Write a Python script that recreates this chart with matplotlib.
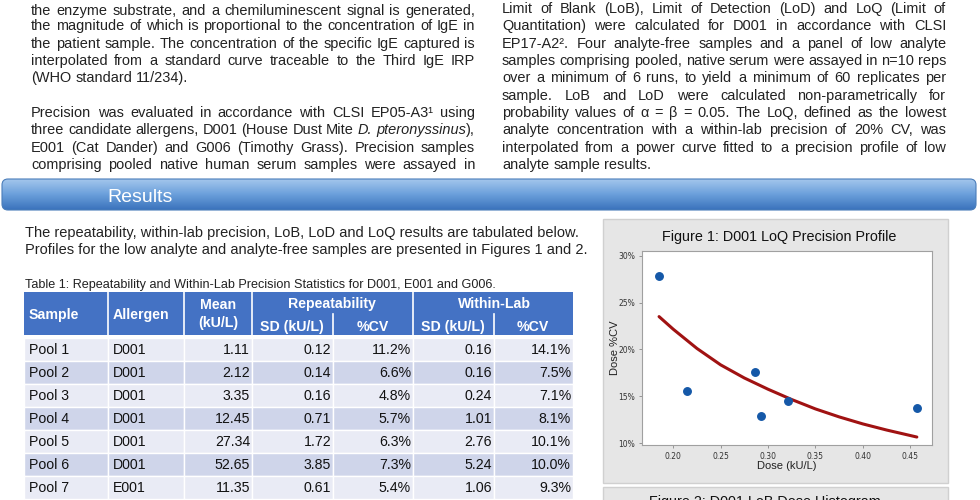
import matplotlib
matplotlib.use('Agg')
import matplotlib.pyplot as plt
from matplotlib.patches import Rectangle, FancyBboxPatch
from matplotlib.font_manager import FontProperties
from matplotlib.colors import LinearSegmentedColormap
import numpy as np

# ---------------- data ----------------
left_par = [
    "the enzyme substrate, and a chemiluminescent signal is generated,",
    "the magnitude of which is proportional to the concentration of IgE in",
    "the patient sample. The concentration of the specific IgE captured is",
    "interpolated from a standard curve traceable to the Third IgE IRP",
    "(WHO standard 11/234).",
    "Precision was evaluated in accordance with CLSI EP05-A3\u00b9 using",
    "three candidate allergens, D001 (House Dust Mite *D. pteronyssinus*),",
    "E001 (Cat Dander) and G006 (Timothy Grass). Precision samples",
    "comprising pooled native human serum samples were assayed in",
]
left_just = [True, True, True, True, False, True, True, True, True]
left_y = [10, 25, 43, 60, 77, 112, 129, 147, 164]

right_par = [
    "Limit of Blank (LoB), Limit of Detection (LoD) and LoQ (Limit of",
    "Quantitation) were calculated for D001 in accordance with CLSI",
    "EP17-A2\u00b2. Four analyte-free samples and a panel of low analyte",
    "samples comprising pooled, native serum were assayed in n=10 reps",
    "over a minimum of 6 runs, to yield a minimum of 60 replicates per",
    "sample. LoB and LoD were calculated non-parametrically for",
    "probability values of \u03b1 = \u03b2 = 0.05. The LoQ, defined as the lowest",
    "analyte concentration with a within-lab precision of 20% CV, was",
    "interpolated from a power curve fitted to a precision profile of low",
    "analyte sample results.",
]
right_just = [True] * 9 + [False]
right_y = [8, 25, 43, 60, 77, 95, 112, 129, 147, 164]

banner_title = "Results"
results_lines = [
    "The repeatability, within-lab precision, LoB, LoD and LoQ results are tabulated below.",
    "Profiles for the low analyte and analyte-free samples are presented in Figures 1 and 2.",
]
table_caption = "Table 1: Repeatability and Within-Lab Precision Statistics for D001, E001 and G006."

samples = ["Pool 1", "Pool 2", "Pool 3", "Pool 4", "Pool 5", "Pool 6", "Pool 7"]
allergens = ["D001", "D001", "D001", "D001", "D001", "D001", "E001"]
mean_kul = [1.11, 2.12, 3.35, 12.45, 27.34, 52.65, 11.35]
rep_sd = [0.12, 0.14, 0.16, 0.71, 1.72, 3.85, 0.61]
rep_cv = [11.2, 6.6, 4.8, 5.7, 6.3, 7.3, 5.4]
wl_sd = [0.16, 0.16, 0.24, 1.01, 2.76, 5.24, 1.06]
wl_cv = [14.1, 7.5, 7.1, 8.1, 10.1, 10.0, 9.3]

fig1_title = "Figure 1: D001 LoQ Precision Profile"
fig2_title = "Figure 2: D001 LoB Dose Histogram"
dose = [0.1845, 0.2145, 0.286, 0.2925, 0.3215, 0.457]
dose_cv = [27.8, 15.6, 17.6, 12.9, 14.5, 13.7]
fit_dose = [0.185, 0.20, 0.225, 0.25, 0.275, 0.30, 0.325, 0.35, 0.375, 0.40, 0.425, 0.457]
fit_cv = [23.5, 22.15, 20.1, 18.35, 16.95, 15.75, 14.65, 13.65, 12.8, 12.05, 11.4, 10.65]
x_ticks = [0.20, 0.25, 0.30, 0.35, 0.40, 0.45]
y_ticks = [10, 15, 20, 25, 30]

# ---------------- figure ----------------
W, H = 980, 500
fig = plt.figure(figsize=(9.8, 5), dpi=100)
fig.patch.set_facecolor('white')
ax0 = fig.add_axes([0, 0, 1, 1])
ax0.axis('off')
renderer = fig.canvas.get_renderer()

SANS = ['Liberation Sans', 'DejaVu Sans']
NARROW = ['Liberation Sans Narrow', 'Liberation Sans', 'DejaVu Sans']
TXT = '#222222'


def tw(s, size, family=SANS, style='normal', weight='normal'):
    fp = FontProperties(family=family, size=size, style=style, weight=weight)
    w, h, d = renderer.get_text_width_height_descent(s, fp, ismath=False)
    return w


def tokens(line):
    toks = []
    ital = False
    for word in line.split(' '):
        segs = []
        parts = word.split('*')
        for i, p in enumerate(parts):
            if i > 0:
                ital = not ital
            if p:
                segs.append((p, ital))
        toks.append(segs)
    return toks


def natural_width(line, size):
    toks = tokens(line)
    sp = tw('a a', size) - tw('aa', size)
    tot = sum(tw(s, size, style='italic' if it else 'normal') for t in toks for s, it in t)
    return tot + sp * (len(toks) - 1)


def draw_par(lines, x0, x1, ys, size, just):
    sp = tw('a a', size) - tw('aa', size)
    base = 0.32 * size * 100 / 72
    for line, y, j in zip(lines, ys, just):
        toks = tokens(line)
        widths = [[tw(s, size, style='italic' if it else 'normal') for s, it in t] for t in toks]
        tot = sum(sum(w) for w in widths)
        gap = (x1 - x0 - tot) / (len(toks) - 1) if (j and len(toks) > 1) else sp
        x = x0
        for t, wl in zip(toks, widths):
            for (s, it), w in zip(t, wl):
                ax0.text(x, y + base, s, fontsize=size, family=SANS,
                         style='italic' if it else 'normal', color=TXT,
                         ha='left', va='baseline')
                x += w
            x += gap


# paragraph font size fitted to the tightest justified line
ref = 10.0
mx = max([natural_width(l, ref) for l, j in zip(left_par, left_just) if j] +
         [natural_width(l, ref) for l, j in zip(right_par, right_just) if j])
psize = ref * 444 / mx
draw_par(left_par, 31, 475, left_y, psize, left_just)
draw_par(right_par, 502, 946, right_y, psize, right_just)

# Results banner
patch = FancyBboxPatch((2, 179), 974, 31, boxstyle='round,pad=0,rounding_size=6',
                       facecolor='none', edgecolor='#4A7DBA', lw=0.8, zorder=3)
ax0.add_patch(patch)
grad = np.linspace(0, 1, 64).reshape(-1, 1)
cmap = LinearSegmentedColormap.from_list('b', ['#A3C6EC', '#6A9FDB', '#3A72BC'])
im = ax0.imshow(grad, extent=(2, 976, 210, 179), aspect='auto', cmap=cmap,
                origin='upper', zorder=2)
im.set_clip_path(patch)
bsize = 14.0
ax0.text(107, 195 + 0.36 * bsize * 100 / 72, banner_title, fontsize=bsize, family=NARROW,
         color='white', ha='left', va='baseline', zorder=4)

# results intro text
rsize = 10.0 * 550 / tw(results_lines[0], 10.0)
for y, l in zip([232, 249], results_lines):
    ax0.text(25, y + 0.32 * rsize * 100 / 72, l, fontsize=rsize, family=SANS,
             color=TXT, ha='left', va='baseline')

csize = 10.0 * 472 / tw(table_caption, 10.0, family=NARROW)
ax0.text(25, 284 + 0.32 * csize * 100 / 72, table_caption, fontsize=csize,
         family=NARROW, color=TXT, ha='left', va='baseline')

# ---------------- table ----------------
cols = [24, 108, 184, 252, 333, 413, 494, 573]
HBLUE = '#4472C4'
hy0, hmid, hy1 = 292, 314, 335
ax0.add_patch(Rectangle((cols[0], hy0), cols[-1] - cols[0], hy1 - hy0, fc=HBLUE, ec='none'))
for c in [108, 184, 252, 413]:
    ax0.plot([c, c], [hy0, hy1], color='white', lw=1.2)
for c in [333, 494]:
    ax0.plot([c, c], [hmid, hy1], color='white', lw=1.2)

hs = 10.2
hb = 0.32 * hs * 100 / 72
hk = dict(fontsize=hs, family=SANS, weight='bold', color='white', va='baseline')
ax0.text(29, 314 + hb, 'Sample', ha='left', **hk)
ax0.text(113, 314 + hb, 'Allergen', ha='left', **hk)
ax0.text(218, 304 + hb, 'Mean', ha='center', **hk)
ax0.text(218, 322 + hb, '(kU/L)', ha='center', **hk)
ax0.text(332, 303 + hb, 'Repeatability', ha='center', **hk)
ax0.text(494, 303 + hb, 'Within-Lab', ha='center', **hk)
ax0.text(292, 326 + hb, 'SD (kU/L)', ha='center', **hk)
ax0.text(373, 326 + hb, '%CV', ha='center', **hk)
ax0.text(453, 326 + hb, 'SD (kU/L)', ha='center', **hk)
ax0.text(533, 326 + hb, '%CV', ha='center', **hk)

bs = 10.2
bb = 0.32 * bs * 100 / 72
bk = dict(fontsize=bs, family=SANS, color='#111111', va='baseline')
row_h = 23
y_start = 338
for i in range(len(samples)):
    y = y_start + i * row_h
    fc = '#E9EBF5' if i % 2 == 0 else '#CFD5EA'
    for c0, c1 in zip(cols[:-1], cols[1:]):
        ax0.add_patch(Rectangle((c0, y), c1 - c0, row_h, fc=fc, ec='white', lw=1.0))
    yc = y + row_h / 2 + bb
    ax0.text(29, yc, samples[i], ha='left', **bk)
    ax0.text(113, yc, allergens[i], ha='left', **bk)
    vals = [f"{mean_kul[i]:.2f}", f"{rep_sd[i]:.2f}", f"{rep_cv[i]:.1f}%",
            f"{wl_sd[i]:.2f}", f"{wl_cv[i]:.1f}%"]
    for v, c1 in zip(vals, cols[3:]):
        ax0.text(c1 - 2, yc, v, ha='right', **bk)

# ---------------- figure panels ----------------
ax0.add_patch(Rectangle((603, 219), 345, 264, fc='#E6E6E6', ec='#D0D0D0', lw=1))
ax0.add_patch(Rectangle((603, 487), 345, 30, fc='#E6E6E6', ec='#D0D0D0', lw=1))
ax0.text(779, 237, fig1_title, fontsize=10.4, family=SANS, color='#111111',
         ha='center', va='center')
ax0.text(649, 502, fig2_title, fontsize=10.4, family=SANS, color='#111111',
         ha='left', va='center')

ax0.set_xlim(0, W)
ax0.set_ylim(H, 0)
ax0.set_aspect('auto')

ax = fig.add_axes([642 / W, (H - 445) / H, 290 / W, 194 / H])
ax.set_facecolor('white')
ax.plot(fit_dose, fit_cv, color='#A01212', lw=2.2, solid_capstyle='round',
        solid_joinstyle='round', zorder=2)
ax.plot(dose, dose_cv, 'o', color='#1558A8', ms=5.4, mec='#1558A8', zorder=3)
ax.set_xlim(0.167, 0.473)
ax.set_ylim(9.8, 30.5)
ax.set_xticks(x_ticks)
ax.set_xticklabels([f"{v:.2f}" for v in x_ticks])
ax.set_yticks(y_ticks)
ax.set_yticklabels([f"{v}%" for v in y_ticks])
ax.tick_params(length=2.5, width=0.6, color='#888888', labelsize=5.5,
               labelcolor='#333333', pad=2.5)
for s in ax.spines.values():
    s.set_color('#A0A0A0')
    s.set_linewidth(0.8)
ax.set_xlabel('Dose (kU/L)', fontsize=8, family=SANS, color='#222222')
ax.set_ylabel('Dose %CV', fontsize=8, family=SANS, color='#222222')
ax.xaxis.set_label_coords(0.5, -0.085)
ax.yaxis.set_label_coords(-0.075, 0.5)

fig.savefig('out.png', dpi=100, facecolor='white')
